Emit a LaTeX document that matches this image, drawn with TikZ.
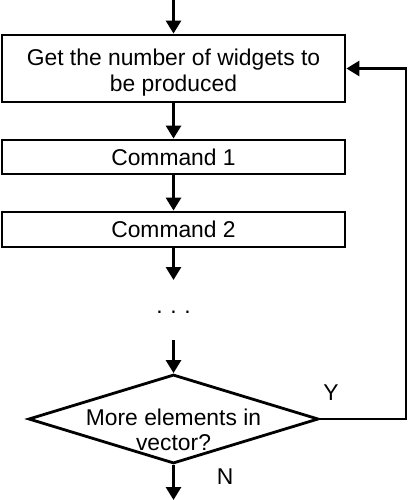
\documentclass[tikz,border=0pt]{standalone}
\usepackage{fontspec}
\setmainfont{Liberation Sans}
\usetikzlibrary{arrows.meta,positioning,shapes.geometric}
\tikzset{stepbox/.style={draw,rectangle,line width=1.6pt,minimum width=6.86cm,align=center,font=\fontsize{13}{14.5}\selectfont},
    decision/.style={draw,diamond,line width=1.6pt,minimum width=5.8cm,minimum height=1.78cm,inner sep=0},
    flowarrow/.style={line width=1.6pt,-{Triangle[length=0.26cm,width=0.3cm]}},
    plaintext/.style={font=\fontsize{13}{14}\selectfont,inner sep=0}
}
\begin{document}
\begin{tikzpicture}

\useasboundingbox (0,0) rectangle (8.18,-10);

\node (getnumber) [stepbox,minimum height=1.34cm,inner ysep=0.1cm,text height=1.0cm] at (3.47,-1.37) {Get the number of widgets to\\be produced};
\node (command1) [stepbox,minimum height=0.68cm] at (3.47,-3.14) {Command 1};
\node (command2) [stepbox,minimum height=0.7cm] at (3.47,-4.59) {Command 2};
\node (gap) [plaintext] at (3.47,-6.24) {.\,\,.\,\,.};
\node (check) [decision] at (3.47,-8.38) {};
\node (checktext) [plaintext,align=center] at (3.47,-8.6) {More elements in\\vector?};

\node (yes) [plaintext] at (6.62,-7.86) {Y};
\node (no) [plaintext] at (4.5,-9.54) {N};

\coordinate (entry) at (3.47,0);
\coordinate (gapin) at (3.47,-5.6);
\coordinate (gapout) at (3.47,-6.8);
\coordinate (exit) at (3.47,-10);
\coordinate (loopcorner) at (8.12,-8.38);

% main flow
\draw [flowarrow] (entry) -- (getnumber.north);
\draw [flowarrow] (getnumber) -- (command1);
\draw [flowarrow] (command1) -- (command2);
\draw [flowarrow] (command2) -- (gapin);
\draw [flowarrow] (gapout) -- (check.north);
\draw [flowarrow] (check.south) -- (exit);

% loop back
\draw [flowarrow] (check.east) -- (loopcorner) |- (getnumber.east);

\end{tikzpicture}
\end{document}
